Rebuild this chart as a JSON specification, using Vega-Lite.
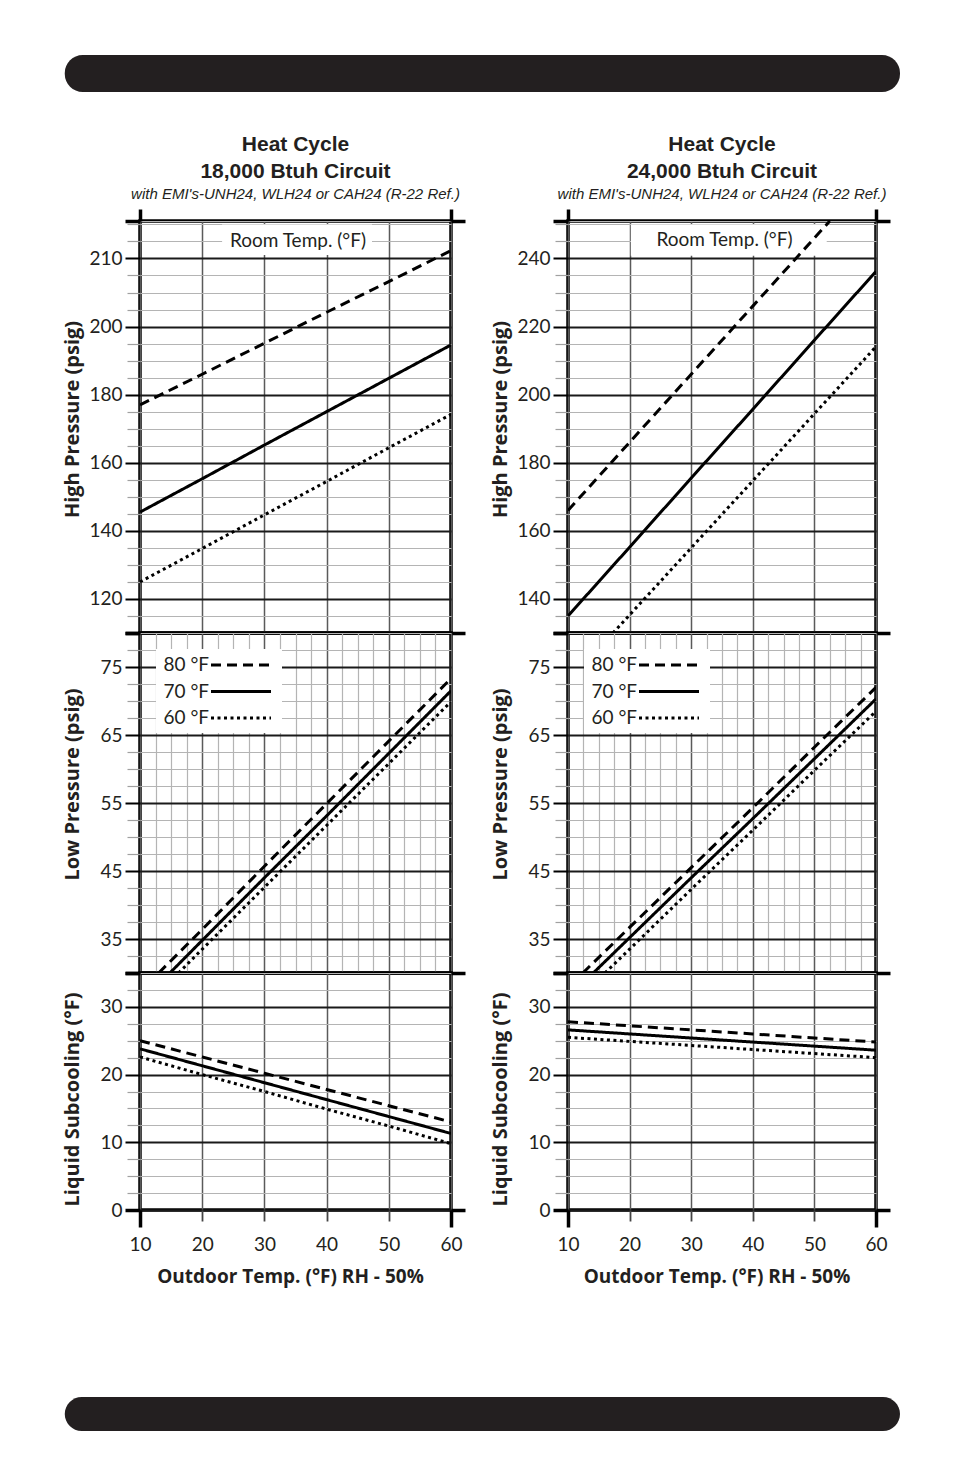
{
  "$schema": "https://vega.github.io/schema/vega-lite/v6.json",
  "background": "white",
  "padding": {"left": 60, "top": 55, "right": 0, "bottom": 0},
  "datasets": {
    "readings": [
      {"circuit": "18,000", "gauge": "high", "room": "80 °F", "outdoor": 10, "reading": 177},
      {"circuit": "18,000", "gauge": "high", "room": "80 °F", "outdoor": 20, "reading": 186},
      {"circuit": "18,000", "gauge": "high", "room": "80 °F", "outdoor": 30, "reading": 195.1},
      {"circuit": "18,000", "gauge": "high", "room": "80 °F", "outdoor": 40, "reading": 204.2},
      {"circuit": "18,000", "gauge": "high", "room": "80 °F", "outdoor": 50, "reading": 213.2},
      {"circuit": "18,000", "gauge": "high", "room": "80 °F", "outdoor": 60, "reading": 222.3},
      {"circuit": "18,000", "gauge": "high", "room": "70 °F", "outdoor": 10, "reading": 145.5},
      {"circuit": "18,000", "gauge": "high", "room": "70 °F", "outdoor": 20, "reading": 155.3},
      {"circuit": "18,000", "gauge": "high", "room": "70 °F", "outdoor": 30, "reading": 165.2},
      {"circuit": "18,000", "gauge": "high", "room": "70 °F", "outdoor": 40, "reading": 175},
      {"circuit": "18,000", "gauge": "high", "room": "70 °F", "outdoor": 50, "reading": 184.8},
      {"circuit": "18,000", "gauge": "high", "room": "70 °F", "outdoor": 60, "reading": 194.6},
      {"circuit": "18,000", "gauge": "high", "room": "60 °F", "outdoor": 10, "reading": 125},
      {"circuit": "18,000", "gauge": "high", "room": "60 °F", "outdoor": 20, "reading": 134.8},
      {"circuit": "18,000", "gauge": "high", "room": "60 °F", "outdoor": 30, "reading": 144.7},
      {"circuit": "18,000", "gauge": "high", "room": "60 °F", "outdoor": 40, "reading": 154.5},
      {"circuit": "18,000", "gauge": "high", "room": "60 °F", "outdoor": 50, "reading": 164.4},
      {"circuit": "18,000", "gauge": "high", "room": "60 °F", "outdoor": 60, "reading": 174.2},

      {"circuit": "24,000", "gauge": "high", "room": "80 °F", "outdoor": 10, "reading": 166},
      {"circuit": "24,000", "gauge": "high", "room": "80 °F", "outdoor": 20, "reading": 186},
      {"circuit": "24,000", "gauge": "high", "room": "80 °F", "outdoor": 30, "reading": 206},
      {"circuit": "24,000", "gauge": "high", "room": "80 °F", "outdoor": 40, "reading": 226},
      {"circuit": "24,000", "gauge": "high", "room": "80 °F", "outdoor": 50, "reading": 246},
      {"circuit": "24,000", "gauge": "high", "room": "80 °F", "outdoor": 52.5, "reading": 251},
      {"circuit": "24,000", "gauge": "high", "room": "70 °F", "outdoor": 10, "reading": 135},
      {"circuit": "24,000", "gauge": "high", "room": "70 °F", "outdoor": 20, "reading": 155.2},
      {"circuit": "24,000", "gauge": "high", "room": "70 °F", "outdoor": 30, "reading": 175.5},
      {"circuit": "24,000", "gauge": "high", "room": "70 °F", "outdoor": 40, "reading": 195.7},
      {"circuit": "24,000", "gauge": "high", "room": "70 °F", "outdoor": 50, "reading": 216},
      {"circuit": "24,000", "gauge": "high", "room": "70 °F", "outdoor": 60, "reading": 236.2},
      {"circuit": "24,000", "gauge": "high", "room": "60 °F", "outdoor": 17.3, "reading": 130},
      {"circuit": "24,000", "gauge": "high", "room": "60 °F", "outdoor": 20, "reading": 135.3},
      {"circuit": "24,000", "gauge": "high", "room": "60 °F", "outdoor": 30, "reading": 155},
      {"circuit": "24,000", "gauge": "high", "room": "60 °F", "outdoor": 40, "reading": 174.7},
      {"circuit": "24,000", "gauge": "high", "room": "60 °F", "outdoor": 50, "reading": 194.4},
      {"circuit": "24,000", "gauge": "high", "room": "60 °F", "outdoor": 60, "reading": 214.1},

      {"circuit": "18,000", "gauge": "low", "room": "80 °F", "outdoor": 13, "reading": 30},
      {"circuit": "18,000", "gauge": "low", "room": "80 °F", "outdoor": 20, "reading": 36.4},
      {"circuit": "18,000", "gauge": "low", "room": "80 °F", "outdoor": 30, "reading": 45.7},
      {"circuit": "18,000", "gauge": "low", "room": "80 °F", "outdoor": 40, "reading": 54.9},
      {"circuit": "18,000", "gauge": "low", "room": "80 °F", "outdoor": 50, "reading": 64.1},
      {"circuit": "18,000", "gauge": "low", "room": "80 °F", "outdoor": 60, "reading": 73.3},
      {"circuit": "18,000", "gauge": "low", "room": "70 °F", "outdoor": 14.8, "reading": 30},
      {"circuit": "18,000", "gauge": "low", "room": "70 °F", "outdoor": 20, "reading": 34.8},
      {"circuit": "18,000", "gauge": "low", "room": "70 °F", "outdoor": 30, "reading": 44},
      {"circuit": "18,000", "gauge": "low", "room": "70 °F", "outdoor": 40, "reading": 53.1},
      {"circuit": "18,000", "gauge": "low", "room": "70 °F", "outdoor": 50, "reading": 62.3},
      {"circuit": "18,000", "gauge": "low", "room": "70 °F", "outdoor": 60, "reading": 71.5},
      {"circuit": "18,000", "gauge": "low", "room": "60 °F", "outdoor": 16.2, "reading": 30},
      {"circuit": "18,000", "gauge": "low", "room": "60 °F", "outdoor": 20, "reading": 33.5},
      {"circuit": "18,000", "gauge": "low", "room": "60 °F", "outdoor": 30, "reading": 42.6},
      {"circuit": "18,000", "gauge": "low", "room": "60 °F", "outdoor": 40, "reading": 51.7},
      {"circuit": "18,000", "gauge": "low", "room": "60 °F", "outdoor": 50, "reading": 60.8},
      {"circuit": "18,000", "gauge": "low", "room": "60 °F", "outdoor": 60, "reading": 69.9},

      {"circuit": "24,000", "gauge": "low", "room": "80 °F", "outdoor": 12.4, "reading": 30},
      {"circuit": "24,000", "gauge": "low", "room": "80 °F", "outdoor": 20, "reading": 36.7},
      {"circuit": "24,000", "gauge": "low", "room": "80 °F", "outdoor": 30, "reading": 45.5},
      {"circuit": "24,000", "gauge": "low", "room": "80 °F", "outdoor": 40, "reading": 54.3},
      {"circuit": "24,000", "gauge": "low", "room": "80 °F", "outdoor": 50, "reading": 63.2},
      {"circuit": "24,000", "gauge": "low", "room": "80 °F", "outdoor": 60, "reading": 72},
      {"circuit": "24,000", "gauge": "low", "room": "70 °F", "outdoor": 14.1, "reading": 30},
      {"circuit": "24,000", "gauge": "low", "room": "70 °F", "outdoor": 20, "reading": 35.2},
      {"circuit": "24,000", "gauge": "low", "room": "70 °F", "outdoor": 30, "reading": 44},
      {"circuit": "24,000", "gauge": "low", "room": "70 °F", "outdoor": 40, "reading": 52.7},
      {"circuit": "24,000", "gauge": "low", "room": "70 °F", "outdoor": 50, "reading": 61.5},
      {"circuit": "24,000", "gauge": "low", "room": "70 °F", "outdoor": 60, "reading": 70.3},
      {"circuit": "24,000", "gauge": "low", "room": "60 °F", "outdoor": 16, "reading": 30},
      {"circuit": "24,000", "gauge": "low", "room": "60 °F", "outdoor": 20, "reading": 33.5},
      {"circuit": "24,000", "gauge": "low", "room": "60 °F", "outdoor": 30, "reading": 42.3},
      {"circuit": "24,000", "gauge": "low", "room": "60 °F", "outdoor": 40, "reading": 51},
      {"circuit": "24,000", "gauge": "low", "room": "60 °F", "outdoor": 50, "reading": 59.8},
      {"circuit": "24,000", "gauge": "low", "room": "60 °F", "outdoor": 60, "reading": 68.5},

      {"circuit": "18,000", "gauge": "sub", "room": "80 °F", "outdoor": 10, "reading": 25},
      {"circuit": "18,000", "gauge": "sub", "room": "80 °F", "outdoor": 20, "reading": 22.6},
      {"circuit": "18,000", "gauge": "sub", "room": "80 °F", "outdoor": 30, "reading": 20.2},
      {"circuit": "18,000", "gauge": "sub", "room": "80 °F", "outdoor": 40, "reading": 17.8},
      {"circuit": "18,000", "gauge": "sub", "room": "80 °F", "outdoor": 50, "reading": 15.4},
      {"circuit": "18,000", "gauge": "sub", "room": "80 °F", "outdoor": 60, "reading": 13},
      {"circuit": "18,000", "gauge": "sub", "room": "70 °F", "outdoor": 10, "reading": 23.8},
      {"circuit": "18,000", "gauge": "sub", "room": "70 °F", "outdoor": 20, "reading": 21.3},
      {"circuit": "18,000", "gauge": "sub", "room": "70 °F", "outdoor": 30, "reading": 18.8},
      {"circuit": "18,000", "gauge": "sub", "room": "70 °F", "outdoor": 40, "reading": 16.3},
      {"circuit": "18,000", "gauge": "sub", "room": "70 °F", "outdoor": 50, "reading": 13.8},
      {"circuit": "18,000", "gauge": "sub", "room": "70 °F", "outdoor": 60, "reading": 11.3},
      {"circuit": "18,000", "gauge": "sub", "room": "60 °F", "outdoor": 10, "reading": 22.6},
      {"circuit": "18,000", "gauge": "sub", "room": "60 °F", "outdoor": 20, "reading": 20},
      {"circuit": "18,000", "gauge": "sub", "room": "60 °F", "outdoor": 30, "reading": 17.5},
      {"circuit": "18,000", "gauge": "sub", "room": "60 °F", "outdoor": 40, "reading": 14.9},
      {"circuit": "18,000", "gauge": "sub", "room": "60 °F", "outdoor": 50, "reading": 12.4},
      {"circuit": "18,000", "gauge": "sub", "room": "60 °F", "outdoor": 60, "reading": 9.8},

      {"circuit": "24,000", "gauge": "sub", "room": "80 °F", "outdoor": 10, "reading": 27.8},
      {"circuit": "24,000", "gauge": "sub", "room": "80 °F", "outdoor": 20, "reading": 27.2},
      {"circuit": "24,000", "gauge": "sub", "room": "80 °F", "outdoor": 30, "reading": 26.6},
      {"circuit": "24,000", "gauge": "sub", "room": "80 °F", "outdoor": 40, "reading": 26},
      {"circuit": "24,000", "gauge": "sub", "room": "80 °F", "outdoor": 50, "reading": 25.4},
      {"circuit": "24,000", "gauge": "sub", "room": "80 °F", "outdoor": 60, "reading": 24.8},
      {"circuit": "24,000", "gauge": "sub", "room": "70 °F", "outdoor": 10, "reading": 26.6},
      {"circuit": "24,000", "gauge": "sub", "room": "70 °F", "outdoor": 20, "reading": 26},
      {"circuit": "24,000", "gauge": "sub", "room": "70 °F", "outdoor": 30, "reading": 25.4},
      {"circuit": "24,000", "gauge": "sub", "room": "70 °F", "outdoor": 40, "reading": 24.8},
      {"circuit": "24,000", "gauge": "sub", "room": "70 °F", "outdoor": 50, "reading": 24.2},
      {"circuit": "24,000", "gauge": "sub", "room": "70 °F", "outdoor": 60, "reading": 23.6},
      {"circuit": "24,000", "gauge": "sub", "room": "60 °F", "outdoor": 10, "reading": 25.5},
      {"circuit": "24,000", "gauge": "sub", "room": "60 °F", "outdoor": 20, "reading": 24.9},
      {"circuit": "24,000", "gauge": "sub", "room": "60 °F", "outdoor": 30, "reading": 24.3},
      {"circuit": "24,000", "gauge": "sub", "room": "60 °F", "outdoor": 40, "reading": 23.7},
      {"circuit": "24,000", "gauge": "sub", "room": "60 °F", "outdoor": 50, "reading": 23.1},
      {"circuit": "24,000", "gauge": "sub", "room": "60 °F", "outdoor": 60, "reading": 22.5}
    ]
  },
  "spacing": 109,
  "resolve": {"scale": {"strokeDash": "independent"}, "legend": {"strokeDash": "independent"}},
  "vconcat": [
    {
      "spacing": 40,
      "resolve": {"scale": {"strokeDash": "independent"}, "legend": {"strokeDash": "independent"}},
      "vconcat": [
        {
          "data": {"values": [{}]},
          "width": 760,
          "height": 37,
          "view": {"stroke": null},
          "mark": {"type": "rect", "color": "#231f20", "cornerRadius": 18},
          "encoding": {
            "x": {"datum": -0.099, "type": "quantitative", "scale": {"domain": [0, 1], "nice": false, "zero": false}, "axis": null},
            "x2": {"datum": 1}
          }
        },
        {
          "spacing": 19,
          "resolve": {"scale": {"strokeDash": "independent"}, "legend": {"strokeDash": "independent"}},
          "hconcat": [
            {
              "spacing": 0,
              "bounds": "flush",
              "resolve": {"scale": {"strokeDash": "independent"}, "legend": {"strokeDash": "independent"}},
              "vconcat": [
                {
                  "width": 311,
                  "height": 412,
                  "title": {
                    "text": ["Heat Cycle", "18,000 Btuh Circuit"],
                    "subtitle": "with EMI's-UNH24, WLH24 or CAH24 (R-22 Ref.)",
                    "anchor": "middle", "frame": "group", "offset": 5,
                    "font": "Liberation Sans", "fontSize": 21, "fontWeight": "bold", "lineHeight": 27, "color": "#231f20",
                    "subtitleFont": "Liberation Sans", "subtitleFontSize": 15, "subtitleFontStyle": "italic", "subtitleColor": "#231f20", "subtitlePadding": 5
                  },
                  "resolve": {"axis": {"y": "independent"}},
                  "layer": [
                    {
                      "data": {"values": [{"label": "Room Temp. (°F)"}]},
                      "mark": {"type": "rect", "color": "white"},
                      "encoding": {
                        "x": {"datum": 23.2, "type": "quantitative", "scale": {"domain": [10, 60], "nice": false, "zero": false}},
                        "x2": {"datum": 47.3},
                        "y": {"datum": 230, "type": "quantitative", "scale": {"domain": [110, 231], "nice": false, "zero": false}, "axis": null},
                        "y2": {"datum": 221}
                      }
                    },
                    {
                      "data": {"values": [{"label": "Room Temp. (°F)"}]},
                      "mark": {"type": "text", "font": "Lato", "fontSize": 19, "color": "#231f20"},
                      "encoding": {
                        "x": {"datum": 35.4, "type": "quantitative", "scale": {"domain": [10, 60], "nice": false, "zero": false}},
                        "y": {"datum": 225.2, "type": "quantitative", "scale": {"domain": [110, 231], "nice": false, "zero": false}, "axis": null},
                        "text": {"field": "label"}
                      }
                    },
                    {
                      "data": {"name": "readings"},
                      "transform": [{"filter": "datum.circuit == '18,000' && datum.gauge == 'high'"}],
                      "mark": {"type": "line", "color": "black", "strokeWidth": 3, "clip": true},
                      "encoding": {
                        "x": {
                          "field": "outdoor", "type": "quantitative",
                          "scale": {"domain": [10, 60], "nice": false, "zero": false},
                          "axis": {
                            "orient": "top", "title": null, "labels": false, "domain": false,
                            "values": [10, 12.5, 15, 17.5, 20, 22.5, 25, 27.5, 30, 32.5, 35, 37.5, 40, 42.5, 45, 47.5, 50, 52.5, 55, 57.5, 60],
                            "grid": true,
                            "gridColor": {"condition": {"test": "datum.value % 10 == 0", "value": "#5a5a5a"}, "value": "#b4b4b4"},
                            "gridWidth": {"condition": {"test": "datum.value % 10 == 0", "value": 1.5}, "value": 1.2},
                            "ticks": true, "tickSize": 12, "tickWidth": 3.5, "tickColor": "black",
                            "tickOpacity": {"condition": {"test": "datum.value == 10 || datum.value == 60", "value": 1}, "value": 0}
                          }
                        },
                        "y": {
                          "field": "reading", "type": "quantitative",
                          "scale": {"domain": [110, 231], "nice": false, "zero": false},
                          "axis": {
                            "orient": "left", "title": "High Pressure (psig)", "domain": false,
                            "values": [110, 115, 120, 125, 130, 135, 140, 145, 150, 155, 160, 165, 170, 175, 180, 185, 190, 195, 200, 205, 210, 215, 220, 225, 230, 231],
                            "labelExpr": "datum.value == 220 ? '210' : (datum.value % 20 == 0 ? datum.label : '')",
                            "grid": true,
                            "gridColor": {"condition": {"test": "datum.value % 20 == 0", "value": "#1a1a1a"}, "value": "#b4b4b4"},
                            "gridWidth": {"condition": {"test": "datum.value % 20 == 0", "value": 2}, "value": 1.2},
                            "tickColor": {"condition": {"test": "datum.value % 20 == 0 || datum.value == 110 || datum.value == 231", "value": "black"}, "value": "#a0a0a0"},
                            "tickWidth": {"condition": [{"test": "datum.value == 110 || datum.value == 231", "value": 3.5}, {"test": "datum.value % 20 == 0", "value": 2}], "value": 1.2},
                            "tickSize": {"condition": {"test": "datum.value % 20 == 0 || datum.value == 110 || datum.value == 231", "value": 15}, "value": 13},
                            "labelPadding": 3,
                            "titleX": -58, "titleY": 198
                          }
                        },
                        "strokeDash": {
                          "field": "room", "type": "nominal",
                          "scale": {"domain": ["80 °F", "70 °F", "60 °F"], "range": [[10, 6], [1, 0], [3, 3.5]]},
                          "legend": null
                        }
                      }
                    },
                    {
                      "data": {"name": "readings"},
                      "transform": [{"filter": "datum.circuit == '18,000' && datum.gauge == 'high'"}],
                      "mark": {"type": "point", "opacity": 0, "size": 0},
                      "encoding": {
                        "x": {"field": "outdoor", "type": "quantitative", "scale": {"domain": [10, 60], "nice": false, "zero": false}},
                        "y": {
                          "field": "reading", "type": "quantitative",
                          "scale": {"domain": [110, 231], "nice": false, "zero": false},
                          "axis": {"orient": "right", "title": null, "labels": false, "grid": false, "domain": false, "values": [110, 231], "tickSize": 14, "tickWidth": 3.5, "tickColor": "black"}
                        }
                      }
                    }
                  ]
                },
                {
                  "width": 311,
                  "height": 340,
                  "data": {"name": "readings"},
                  "transform": [{"filter": "datum.circuit == '18,000' && datum.gauge == 'low'"}],
                  "mark": {"type": "line", "color": "black", "strokeWidth": 3, "clip": true},
                  "encoding": {
                    "x": {
                      "field": "outdoor", "type": "quantitative",
                      "scale": {"domain": [10, 60], "nice": false, "zero": false},
                      "axis": {
                        "title": null, "labels": false, "ticks": false, "domain": false,
                        "values": [10, 12.5, 15, 17.5, 20, 22.5, 25, 27.5, 30, 32.5, 35, 37.5, 40, 42.5, 45, 47.5, 50, 52.5, 55, 57.5, 60],
                        "grid": true,
                        "gridColor": {"condition": {"test": "datum.value % 10 == 0", "value": "#5a5a5a"}, "value": "#b4b4b4"},
                        "gridWidth": {"condition": {"test": "datum.value % 10 == 0", "value": 1.5}, "value": 1.2}
                      }
                    },
                    "y": {
                      "field": "reading", "type": "quantitative",
                      "scale": {"domain": [30, 80], "nice": false, "zero": false},
                      "axis": {
                        "orient": "left", "title": "Low Pressure (psig)", "domain": false,
                        "values": [30, 32.5, 35, 37.5, 40, 42.5, 45, 47.5, 50, 52.5, 55, 57.5, 60, 62.5, 65, 67.5, 70, 72.5, 75, 77.5, 80],
                        "labelExpr": "(datum.value - 35) % 10 == 0 ? datum.label : ''",
                        "grid": true,
                        "gridColor": {"condition": {"test": "(datum.value - 35) % 10 == 0", "value": "#1a1a1a"}, "value": "#b4b4b4"},
                        "gridWidth": {"condition": {"test": "(datum.value - 35) % 10 == 0", "value": 2}, "value": 1.2},
                        "tickColor": {"condition": {"test": "(datum.value - 35) % 10 == 0 || datum.value == 30 || datum.value == 80", "value": "black"}, "value": "#a0a0a0"},
                        "tickWidth": {"condition": [{"test": "datum.value == 30 || datum.value == 80", "value": 3.5}, {"test": "(datum.value - 35) % 10 == 0", "value": 2}], "value": 1.2},
                        "tickSize": {"condition": {"test": "(datum.value - 35) % 10 == 0 || datum.value == 30 || datum.value == 80", "value": 15}, "value": 13},
                        "labelPadding": 3,
                        "titleX": -58, "titleY": 151
                      }
                    },
                    "strokeDash": {
                      "field": "room", "type": "nominal",
                      "scale": {"domain": ["80 °F", "70 °F", "60 °F"], "range": [[10, 6], [1, 0], [3, 3.5]]},
                      "legend": {
                        "orient": "top-left", "offset": 16, "title": null,
                        "fillColor": "white", "padding": 4.5, "rowPadding": 4.5,
                        "labelFont": "Lato", "labelFontSize": 19, "labelColor": "#231f20", "labelLimit": 200,
                        "symbolType": "M-3,0H3", "symbolSize": 400, "symbolStrokeWidth": 3, "symbolStrokeColor": "black",
                        "symbolOffset": 69, "labelOffset": -89
                      }
                    }
                  }
                },
                {
                  "width": 311,
                  "height": 237,
                  "resolve": {"axis": {"y": "independent"}},
                  "layer": [
                    {
                      "data": {"name": "readings"},
                      "transform": [{"filter": "datum.circuit == '18,000' && datum.gauge == 'sub'"}],
                      "mark": {"type": "line", "color": "black", "strokeWidth": 3, "clip": true},
                      "encoding": {
                        "x": {
                          "field": "outdoor", "type": "quantitative",
                          "scale": {"domain": [10, 60], "nice": false, "zero": false},
                          "axis": {
                            "orient": "bottom", "title": "Outdoor Temp. (°F) RH - 50%", "domain": false,
                            "values": [10, 12.5, 15, 17.5, 20, 22.5, 25, 27.5, 30, 32.5, 35, 37.5, 40, 42.5, 45, 47.5, 50, 52.5, 55, 57.5, 60],
                            "labelExpr": "datum.value % 10 == 0 ? datum.label : ''",
                            "grid": true,
                            "gridColor": {"condition": {"test": "datum.value % 10 == 0", "value": "#5a5a5a"}, "value": "#b4b4b4"},
                            "gridWidth": {"condition": {"test": "datum.value % 10 == 0", "value": 1.5}, "value": 1.2},
                            "tickColor": {"condition": [{"test": "datum.value == 10 || datum.value == 60", "value": "black"}, {"test": "datum.value % 10 == 0", "value": "#444444"}], "value": "#9a9a9a"},
                            "tickWidth": {"condition": [{"test": "datum.value == 10 || datum.value == 60", "value": 3.5}, {"test": "datum.value % 10 == 0", "value": 1.8}], "value": 1.3},
                            "tickSize": {"condition": {"test": "datum.value == 10 || datum.value == 60", "value": 17}, "value": 11},
                            "labelPadding": {"condition": {"test": "datum.value == 10 || datum.value == 60", "value": 8}, "value": 14},
                            "titlePadding": 13, "titleFontSize": 19, "titleX": 150
                          }
                        },
                        "y": {
                          "field": "reading", "type": "quantitative",
                          "scale": {"domain": [0, 35], "nice": false, "zero": false},
                          "axis": {
                            "orient": "left", "title": "Liquid Subcooling (°F)", "domain": false,
                            "values": [0, 2.5, 5, 7.5, 10, 12.5, 15, 17.5, 20, 22.5, 25, 27.5, 30, 32.5, 35],
                            "labelExpr": "datum.value % 10 == 0 ? datum.label : ''",
                            "grid": true,
                            "gridColor": {"condition": {"test": "datum.value % 10 == 0", "value": "#1a1a1a"}, "value": "#b4b4b4"},
                            "gridWidth": {"condition": {"test": "datum.value % 10 == 0", "value": 2}, "value": 1.2},
                            "tickColor": {"condition": {"test": "datum.value % 10 == 0 || datum.value == 35", "value": "black"}, "value": "#a0a0a0"},
                            "tickWidth": {"condition": [{"test": "datum.value == 0 || datum.value == 35", "value": 3.5}, {"test": "datum.value % 10 == 0", "value": 2}], "value": 1.2},
                            "tickSize": {"condition": {"test": "datum.value % 10 == 0 || datum.value == 35", "value": 15}, "value": 13},
                            "labelPadding": 3,
                            "titleX": -58, "titleY": 126
                          }
                        },
                        "strokeDash": {
                          "field": "room", "type": "nominal",
                          "scale": {"domain": ["80 °F", "70 °F", "60 °F"], "range": [[10, 6], [1, 0], [3, 3.5]]},
                          "legend": null
                        }
                      }
                    },
                    {
                      "data": {"name": "readings"},
                      "transform": [{"filter": "datum.circuit == '18,000' && datum.gauge == 'sub'"}],
                      "mark": {"type": "point", "opacity": 0, "size": 0},
                      "encoding": {
                        "x": {"field": "outdoor", "type": "quantitative", "scale": {"domain": [10, 60], "nice": false, "zero": false}},
                        "y": {
                          "field": "reading", "type": "quantitative",
                          "scale": {"domain": [0, 35], "nice": false, "zero": false},
                          "axis": {"orient": "right", "title": null, "labels": false, "grid": false, "domain": false, "values": [0, 35], "tickSize": 14, "tickWidth": 3.5, "tickColor": "black"}
                        }
                      }
                    }
                  ]
                }
              ]
            },
            {
              "spacing": 0,
              "bounds": "flush",
              "resolve": {"scale": {"strokeDash": "independent"}, "legend": {"strokeDash": "independent"}},
              "vconcat": [
                {
                  "width": 308,
                  "height": 412,
                  "title": {
                    "text": ["Heat Cycle", "24,000 Btuh Circuit"],
                    "subtitle": "with EMI's-UNH24, WLH24 or CAH24 (R-22 Ref.)",
                    "anchor": "middle", "frame": "group", "offset": 5,
                    "font": "Liberation Sans", "fontSize": 21, "fontWeight": "bold", "lineHeight": 27, "color": "#231f20",
                    "subtitleFont": "Liberation Sans", "subtitleFontSize": 15, "subtitleFontStyle": "italic", "subtitleColor": "#231f20", "subtitlePadding": 5
                  },
                  "resolve": {"axis": {"y": "independent"}},
                  "layer": [
                    {
                      "data": {"values": [{"label": "Room Temp. (°F)"}]},
                      "mark": {"type": "rect", "color": "white"},
                      "encoding": {
                        "x": {"datum": 20.2, "type": "quantitative", "scale": {"domain": [10, 60], "nice": false, "zero": false}},
                        "x2": {"datum": 52},
                        "y": {"datum": 250, "type": "quantitative", "scale": {"domain": [130, 251], "nice": false, "zero": false}, "axis": null},
                        "y2": {"datum": 240.8}
                      }
                    },
                    {
                      "data": {"values": [{"label": "Room Temp. (°F)"}]},
                      "mark": {"type": "text", "font": "Lato", "fontSize": 19, "color": "#231f20"},
                      "encoding": {
                        "x": {"datum": 35.4, "type": "quantitative", "scale": {"domain": [10, 60], "nice": false, "zero": false}},
                        "y": {"datum": 245.4, "type": "quantitative", "scale": {"domain": [130, 251], "nice": false, "zero": false}, "axis": null},
                        "text": {"field": "label"}
                      }
                    },
                    {
                      "data": {"name": "readings"},
                      "transform": [{"filter": "datum.circuit == '24,000' && datum.gauge == 'high'"}],
                      "mark": {"type": "line", "color": "black", "strokeWidth": 3, "clip": true},
                      "encoding": {
                        "x": {
                          "field": "outdoor", "type": "quantitative",
                          "scale": {"domain": [10, 60], "nice": false, "zero": false},
                          "axis": {
                            "orient": "top", "title": null, "labels": false, "domain": false,
                            "values": [10, 12.5, 15, 17.5, 20, 22.5, 25, 27.5, 30, 32.5, 35, 37.5, 40, 42.5, 45, 47.5, 50, 52.5, 55, 57.5, 60],
                            "grid": true,
                            "gridColor": {"condition": {"test": "datum.value % 10 == 0", "value": "#5a5a5a"}, "value": "#b4b4b4"},
                            "gridWidth": {"condition": {"test": "datum.value % 10 == 0", "value": 1.5}, "value": 1.2},
                            "ticks": true, "tickSize": 12, "tickWidth": 3.5, "tickColor": "black",
                            "tickOpacity": {"condition": {"test": "datum.value == 10 || datum.value == 60", "value": 1}, "value": 0}
                          }
                        },
                        "y": {
                          "field": "reading", "type": "quantitative",
                          "scale": {"domain": [130, 251], "nice": false, "zero": false},
                          "axis": {
                            "orient": "left", "title": "High Pressure (psig)", "domain": false,
                            "values": [130, 135, 140, 145, 150, 155, 160, 165, 170, 175, 180, 185, 190, 195, 200, 205, 210, 215, 220, 225, 230, 235, 240, 245, 250, 251],
                            "labelExpr": "datum.value % 20 == 0 ? datum.label : ''",
                            "grid": true,
                            "gridColor": {"condition": {"test": "datum.value % 20 == 0", "value": "#1a1a1a"}, "value": "#b4b4b4"},
                            "gridWidth": {"condition": {"test": "datum.value % 20 == 0", "value": 2}, "value": 1.2},
                            "tickColor": {"condition": {"test": "datum.value % 20 == 0 || datum.value == 130 || datum.value == 251", "value": "black"}, "value": "#a0a0a0"},
                            "tickWidth": {"condition": [{"test": "datum.value == 130 || datum.value == 251", "value": 3.5}, {"test": "datum.value % 20 == 0", "value": 2}], "value": 1.2},
                            "tickSize": {"condition": {"test": "datum.value % 20 == 0 || datum.value == 130 || datum.value == 251", "value": 15}, "value": 13},
                            "labelPadding": 3,
                            "titleX": -58, "titleY": 198
                          }
                        },
                        "strokeDash": {
                          "field": "room", "type": "nominal",
                          "scale": {"domain": ["80 °F", "70 °F", "60 °F"], "range": [[10, 6], [1, 0], [3, 3.5]]},
                          "legend": null
                        }
                      }
                    },
                    {
                      "data": {"name": "readings"},
                      "transform": [{"filter": "datum.circuit == '24,000' && datum.gauge == 'high'"}],
                      "mark": {"type": "point", "opacity": 0, "size": 0},
                      "encoding": {
                        "x": {"field": "outdoor", "type": "quantitative", "scale": {"domain": [10, 60], "nice": false, "zero": false}},
                        "y": {
                          "field": "reading", "type": "quantitative",
                          "scale": {"domain": [130, 251], "nice": false, "zero": false},
                          "axis": {"orient": "right", "title": null, "labels": false, "grid": false, "domain": false, "values": [130, 251], "tickSize": 14, "tickWidth": 3.5, "tickColor": "black"}
                        }
                      }
                    }
                  ]
                },
                {
                  "width": 308,
                  "height": 340,
                  "data": {"name": "readings"},
                  "transform": [{"filter": "datum.circuit == '24,000' && datum.gauge == 'low'"}],
                  "mark": {"type": "line", "color": "black", "strokeWidth": 3, "clip": true},
                  "encoding": {
                    "x": {
                      "field": "outdoor", "type": "quantitative",
                      "scale": {"domain": [10, 60], "nice": false, "zero": false},
                      "axis": {
                        "title": null, "labels": false, "ticks": false, "domain": false,
                        "values": [10, 12.5, 15, 17.5, 20, 22.5, 25, 27.5, 30, 32.5, 35, 37.5, 40, 42.5, 45, 47.5, 50, 52.5, 55, 57.5, 60],
                        "grid": true,
                        "gridColor": {"condition": {"test": "datum.value % 10 == 0", "value": "#5a5a5a"}, "value": "#b4b4b4"},
                        "gridWidth": {"condition": {"test": "datum.value % 10 == 0", "value": 1.5}, "value": 1.2}
                      }
                    },
                    "y": {
                      "field": "reading", "type": "quantitative",
                      "scale": {"domain": [30, 80], "nice": false, "zero": false},
                      "axis": {
                        "orient": "left", "title": "Low Pressure (psig)", "domain": false,
                        "values": [30, 32.5, 35, 37.5, 40, 42.5, 45, 47.5, 50, 52.5, 55, 57.5, 60, 62.5, 65, 67.5, 70, 72.5, 75, 77.5, 80],
                        "labelExpr": "(datum.value - 35) % 10 == 0 ? datum.label : ''",
                        "grid": true,
                        "gridColor": {"condition": {"test": "(datum.value - 35) % 10 == 0", "value": "#1a1a1a"}, "value": "#b4b4b4"},
                        "gridWidth": {"condition": {"test": "(datum.value - 35) % 10 == 0", "value": 2}, "value": 1.2},
                        "tickColor": {"condition": {"test": "(datum.value - 35) % 10 == 0 || datum.value == 30 || datum.value == 80", "value": "black"}, "value": "#a0a0a0"},
                        "tickWidth": {"condition": [{"test": "datum.value == 30 || datum.value == 80", "value": 3.5}, {"test": "(datum.value - 35) % 10 == 0", "value": 2}], "value": 1.2},
                        "tickSize": {"condition": {"test": "(datum.value - 35) % 10 == 0 || datum.value == 30 || datum.value == 80", "value": 15}, "value": 13},
                        "labelPadding": 3,
                        "titleX": -58, "titleY": 151
                      }
                    },
                    "strokeDash": {
                      "field": "room", "type": "nominal",
                      "scale": {"domain": ["80 °F", "70 °F", "60 °F"], "range": [[10, 6], [1, 0], [3, 3.5]]},
                      "legend": {
                        "orient": "top-left", "offset": 16, "title": null,
                        "fillColor": "white", "padding": 4.5, "rowPadding": 4.5,
                        "labelFont": "Lato", "labelFontSize": 19, "labelColor": "#231f20", "labelLimit": 200,
                        "symbolType": "M-3,0H3", "symbolSize": 400, "symbolStrokeWidth": 3, "symbolStrokeColor": "black",
                        "symbolOffset": 69, "labelOffset": -89
                      }
                    }
                  }
                },
                {
                  "width": 308,
                  "height": 237,
                  "resolve": {"axis": {"y": "independent"}},
                  "layer": [
                    {
                      "data": {"name": "readings"},
                      "transform": [{"filter": "datum.circuit == '24,000' && datum.gauge == 'sub'"}],
                      "mark": {"type": "line", "color": "black", "strokeWidth": 3, "clip": true},
                      "encoding": {
                        "x": {
                          "field": "outdoor", "type": "quantitative",
                          "scale": {"domain": [10, 60], "nice": false, "zero": false},
                          "axis": {
                            "orient": "bottom", "title": "Outdoor Temp. (°F) RH - 50%", "domain": false,
                            "values": [10, 12.5, 15, 17.5, 20, 22.5, 25, 27.5, 30, 32.5, 35, 37.5, 40, 42.5, 45, 47.5, 50, 52.5, 55, 57.5, 60],
                            "labelExpr": "datum.value % 10 == 0 ? datum.label : ''",
                            "grid": true,
                            "gridColor": {"condition": {"test": "datum.value % 10 == 0", "value": "#5a5a5a"}, "value": "#b4b4b4"},
                            "gridWidth": {"condition": {"test": "datum.value % 10 == 0", "value": 1.5}, "value": 1.2},
                            "tickColor": {"condition": [{"test": "datum.value == 10 || datum.value == 60", "value": "black"}, {"test": "datum.value % 10 == 0", "value": "#444444"}], "value": "#9a9a9a"},
                            "tickWidth": {"condition": [{"test": "datum.value == 10 || datum.value == 60", "value": 3.5}, {"test": "datum.value % 10 == 0", "value": 1.8}], "value": 1.3},
                            "tickSize": {"condition": {"test": "datum.value == 10 || datum.value == 60", "value": 17}, "value": 11},
                            "labelPadding": {"condition": {"test": "datum.value == 10 || datum.value == 60", "value": 8}, "value": 14},
                            "titlePadding": 13, "titleFontSize": 19, "titleX": 148.5
                          }
                        },
                        "y": {
                          "field": "reading", "type": "quantitative",
                          "scale": {"domain": [0, 35], "nice": false, "zero": false},
                          "axis": {
                            "orient": "left", "title": "Liquid Subcooling (°F)", "domain": false,
                            "values": [0, 2.5, 5, 7.5, 10, 12.5, 15, 17.5, 20, 22.5, 25, 27.5, 30, 32.5, 35],
                            "labelExpr": "datum.value % 10 == 0 ? datum.label : ''",
                            "grid": true,
                            "gridColor": {"condition": {"test": "datum.value % 10 == 0", "value": "#1a1a1a"}, "value": "#b4b4b4"},
                            "gridWidth": {"condition": {"test": "datum.value % 10 == 0", "value": 2}, "value": 1.2},
                            "tickColor": {"condition": {"test": "datum.value % 10 == 0 || datum.value == 35", "value": "black"}, "value": "#a0a0a0"},
                            "tickWidth": {"condition": [{"test": "datum.value == 0 || datum.value == 35", "value": 3.5}, {"test": "datum.value % 10 == 0", "value": 2}], "value": 1.2},
                            "tickSize": {"condition": {"test": "datum.value % 10 == 0 || datum.value == 35", "value": 15}, "value": 13},
                            "labelPadding": 3,
                            "titleX": -58, "titleY": 126
                          }
                        },
                        "strokeDash": {
                          "field": "room", "type": "nominal",
                          "scale": {"domain": ["80 °F", "70 °F", "60 °F"], "range": [[10, 6], [1, 0], [3, 3.5]]},
                          "legend": null
                        }
                      }
                    },
                    {
                      "data": {"name": "readings"},
                      "transform": [{"filter": "datum.circuit == '24,000' && datum.gauge == 'sub'"}],
                      "mark": {"type": "point", "opacity": 0, "size": 0},
                      "encoding": {
                        "x": {"field": "outdoor", "type": "quantitative", "scale": {"domain": [10, 60], "nice": false, "zero": false}},
                        "y": {
                          "field": "reading", "type": "quantitative",
                          "scale": {"domain": [0, 35], "nice": false, "zero": false},
                          "axis": {"orient": "right", "title": null, "labels": false, "grid": false, "domain": false, "values": [0, 35], "tickSize": 14, "tickWidth": 3.5, "tickColor": "black"}
                        }
                      }
                    }
                  ]
                }
              ]
            }
          ]
        }
      ]
    },
    {
      "data": {"values": [{}]},
      "width": 760,
      "height": 34,
      "view": {"stroke": null},
      "mark": {"type": "rect", "color": "#231f20", "cornerRadius": 17},
      "encoding": {
        "x": {"datum": -0.099, "type": "quantitative", "scale": {"domain": [0, 1], "nice": false, "zero": false}, "axis": null},
        "x2": {"datum": 1}
      }
    }
  ],
  "config": {
    "view": {"stroke": "black", "strokeWidth": 3.5},
    "axis": {
      "labelFont": "Lato", "labelFontSize": 19, "labelColor": "#231f20",
      "titleFont": "Open Sans", "titleFontSize": 20, "titleFontWeight": "bold", "titleColor": "#231f20",
      "labelOverlap": false, "labelFlush": false, "tickCap": "butt"
    }
  }
}
